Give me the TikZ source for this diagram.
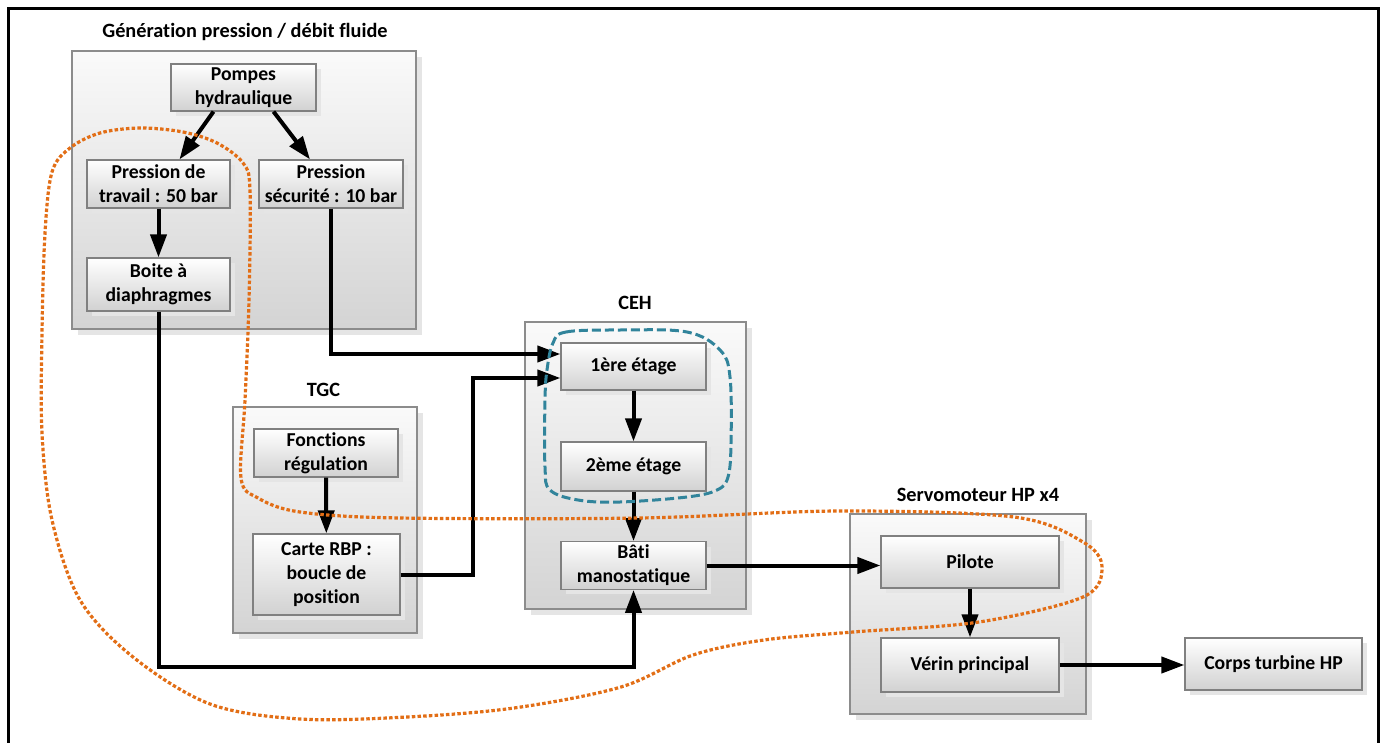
\documentclass[tikz,border=0pt]{standalone}
\usepackage{fontspec}
\setmainfont{Carlito}[Ligatures=NoCommon]
\usetikzlibrary{arrows.meta,shadows}
\definecolor{orangeboucle}{RGB}{226,110,22}
\definecolor{bleuboucle}{RGB}{49,132,155}
\tikzstyle{groupe}=[draw=black!45, line width=1.2pt, top color=black!2, bottom color=black!17,
  drop shadow={shadow xshift=6pt, shadow yshift=-6pt, fill=black!10, opacity=1}]
\tikzstyle{bloc}=[draw=black!50, line width=1.2pt, top color=white, bottom color=black!18,
  align=center, font=\fontsize{19.7}{24}\selectfont\bfseries,
  drop shadow={shadow xshift=5pt, shadow yshift=-5pt, fill=black!10, opacity=1}]
\tikzstyle{titre}=[font=\fontsize{20.3}{24}\selectfont\bfseries]
\tikzstyle{fleche}=[line width=4pt, -{Triangle[length=23pt,width=16pt]}]

\begin{document}
\begin{tikzpicture}[x=1pt, y=-1pt]
\useasboundingbox (0,0) rectangle (1383,743);
% Cadre
    \draw[line width=3.5pt] (8.5,760) -- (8.5,8.5) -- (1378.5,8.5) -- (1378.5,760);
% Groupes
    \node[groupe, minimum width=344pt, minimum height=278pt] (gen) at (244,190) {};
    \node[groupe, minimum width=184pt, minimum height=226pt] (tgc) at (325,520) {};
    \node[groupe, minimum width=221pt, minimum height=287pt] (ceh) at (635.5,465.5) {};
    \node[groupe, minimum width=236pt, minimum height=200pt] (servo) at (968,614) {};
    \node[titre] (tgen) at (245,32) {Génération pression / débit fluide};
    \node[titre] (ttgc) at (323.5,390) {TGC};
    \node[titre] (tceh) at (635,303) {CEH};
    \node[titre] (tservo) at (978,495) {Servomoteur HP x4};
% Blocs
    \node[bloc, minimum width=145pt, minimum height=47pt] (pompes) at (243.5,87.5) {Pompes\\hydraulique};
    \node[bloc, minimum width=143pt, minimum height=48pt] (travail) at (158.5,184) {Pression de\\travail : 50 bar};
    \node[bloc, minimum width=144pt, minimum height=48pt] (securite) at (331,184) {Pression\\sécurité : 10 bar};
    \node[bloc, minimum width=143pt, minimum height=53pt] (boite) at (158.5,284.5) {Boite à\\diaphragmes};
    \node[bloc, minimum width=144pt, minimum height=48pt] (fonctions) at (326,453) {Fonctions\\régulation};
    \node[bloc, minimum width=147pt, minimum height=81pt] (carte) at (326.5,574.5) {Carte RBP :\\boucle de\\position};
    \node[bloc, minimum width=145pt, minimum height=47pt] (etage1) at (633.5,366.5) {1ère étage};
    \node[bloc, minimum width=145pt, minimum height=49pt] (etage2) at (633.5,466.5) {2ème étage};
    \node[bloc, minimum width=145pt, minimum height=47pt] (bati) at (633.5,565.5) {Bâti\\manostatique};
    \node[bloc, minimum width=178pt, minimum height=52pt] (pilote) at (970,562) {Pilote};
    \node[bloc, minimum width=178pt, minimum height=54pt] (verin) at (970,665) {Vérin principal};
    \node[bloc, minimum width=177pt, minimum height=52pt] (corps) at (1273.5,664) {Corps turbine HP};
% Liaisons
    \draw[fleche] ([xshift=-30pt]pompes.south) -- ([xshift=21pt]travail.north);
    \draw[fleche] ([xshift=30pt]pompes.south) -- ([xshift=-21pt]securite.north);
    \draw[fleche] (travail) -- (boite);
    \draw[fleche] (securite.south) |- ([yshift=12.5pt]etage1.west);
    \draw[fleche] (carte.east) -- ++(72,0) |- ([yshift=-11.5pt]etage1.west);
    \draw[fleche] (etage1) -- (etage2);
    \draw[fleche] (etage2) -- (bati);
    \draw[fleche] (boite.south) -- ++(0,355) -| (bati.south);
    \draw[fleche] (fonctions) -- (carte);
    \draw[fleche] (bati.east) -- (bati.east -| pilote.west);
    \draw[fleche] (pilote) -- (verin);
    \draw[fleche] (verin.east) -- (verin.east -| corps.west);
% Boucles
    \draw[bleuboucle, line width=3pt, dash pattern=on 9pt off 4pt]
      plot[smooth cycle, tension=0.6] coordinates {(553,343) (566,332) (620,330) (687,332)
      (720,350) (730,377) (731,443) (728,477) (717,490) (687,497) (620,502) (578,500)
      (550,490) (545,467) (545,400) (547,370)};
    \draw[orangeboucle, line width=3.2pt, dash pattern=on 3.5pt off 2.2pt]
      plot[smooth cycle, tension=0.55] coordinates {(140,128) (183,132) (217,143) (243,163)
      (250,190) (249,300) (245,400) (241,478) (258,498) (300,512) (400,518) (640,518)
      (840,511) (1014,517) (1083,542) (1102,567) (1083,597) (979,622) (853,632) (764,640)
      (693,655) (621,687) (514,708) (407,717) (300,719) (210,704) (133,657) (80,600)
      (52,520) (42,433) (42,333) (45,233) (52,172) (70,148) (100,133)};
\end{tikzpicture}
\end{document}
